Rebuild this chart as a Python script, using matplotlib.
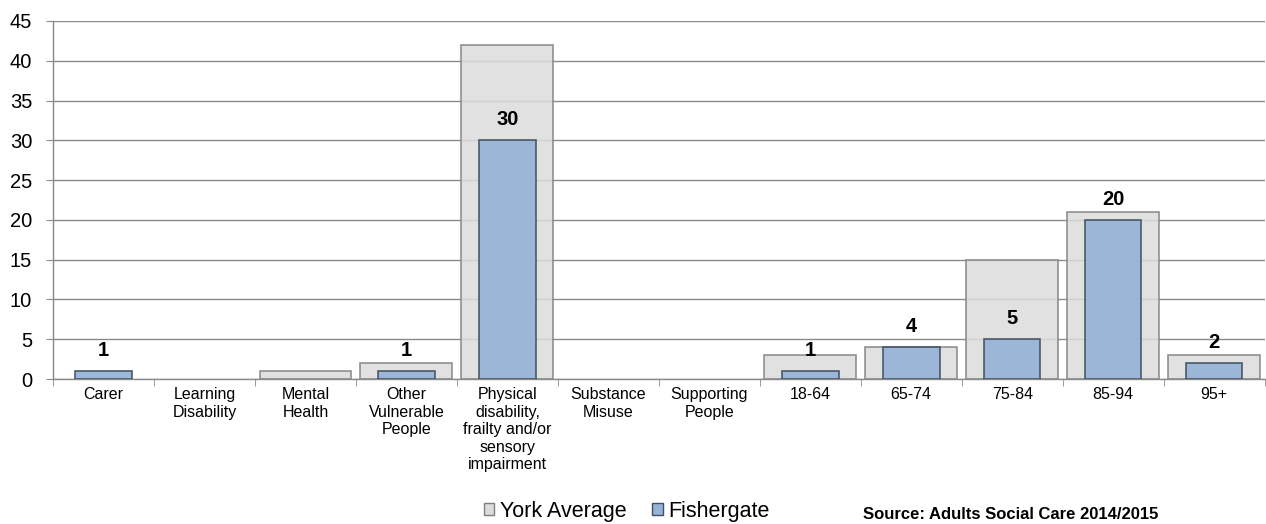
import numpy as np
import matplotlib
matplotlib.use('Agg')
import matplotlib.pyplot as plt
from matplotlib.patches import Patch

plt.rcParams['font.family'] = ['Liberation Sans', 'DejaVu Sans']

categories = ['Carer', 'Learning\nDisability', 'Mental\nHealth', 'Other\nVulnerable\nPeople',
              'Physical\ndisability,\nfrailty and/or\nsensory\nimpairment',
              'Substance\nMisuse', 'Supporting\nPeople',
              '18-64', '65-74', '75-84', '85-94', '95+']
york_average = [0, 0, 1, 2, 42, 0, 0, 3, 4, 15, 21, 3]
fishergate = [1, 0, 0, 1, 30, 0, 0, 1, 4, 5, 20, 2]
y_ticks = [0, 5, 10, 15, 20, 25, 30, 35, 40, 45]

grey_fill = '#dcdcdc'
grey_edge = '#7f7f7f'
blue_fill = '#95b3d7'
blue_edge = '#3f4f5f'

fig = plt.figure(figsize=(12.66, 5.24), dpi=100)
ax = fig.add_axes([0.0419, 0.2767, 0.957, 0.6833])

x = np.arange(len(categories))
york = np.array(york_average, dtype=float)
fish = np.array(fishergate, dtype=float)
# zero values draw nothing in the original
york[york == 0] = np.nan
fish[fish == 0] = np.nan

ax.bar(x, york, width=0.91, color=grey_fill, edgecolor=grey_edge,
       linewidth=1.2, alpha=0.85, zorder=2)
ax.bar(x, fish, width=0.56, color=blue_fill, edgecolor=blue_edge,
       linewidth=1.2, alpha=0.92, zorder=3)

for xi, v in zip(x, fishergate):
    if v > 0:
        ax.annotate(str(v), (xi, v), xytext=(0, 8), textcoords='offset points',
                    ha='center', va='bottom', fontsize=14.5, fontweight='bold', zorder=5)

ax.set_xlim(-0.5, len(categories) - 0.5)
ax.set_ylim(0, 45)
ax.set_yticks(y_ticks)
ax.yaxis.grid(True, color='#8a8a8a', linewidth=1.0, zorder=1)
ax.tick_params(axis='y', labelsize=14.5, length=5, color='#8a8a8a', pad=10)

ax.set_xticks(x)
ax.set_xticklabels(categories, fontsize=11.5, linespacing=1.2)
ax.tick_params(axis='x', which='major', length=0, pad=6)
ax.set_xticks(np.arange(-0.5, len(categories)), minor=True)
ax.tick_params(axis='x', which='minor', length=5, color='#8a8a8a')

for side in ['top', 'right']:
    ax.spines[side].set_visible(False)
for side in ['left', 'bottom']:
    ax.spines[side].set_color('#8a8a8a')
    ax.spines[side].set_linewidth(1.0)

handles = [Patch(facecolor=grey_fill, edgecolor=grey_edge, label='York Average'),
           Patch(facecolor=blue_fill, edgecolor=blue_edge, label='Fishergate')]
fig.legend(handles=handles, loc='center', bbox_to_anchor=(0.495, 1 - 511 / 524), ncol=2,
           frameon=False, fontsize=15.5, handlelength=0.5, handleheight=0.5,
           handletextpad=0.25, columnspacing=1.2, borderpad=0)

fig.text(0.682, 0.004, 'Source: Adults Social Care 2014/2015', fontsize=12,
         fontweight='bold', va='bottom', ha='left')

fig.savefig('out.png', dpi=100)
